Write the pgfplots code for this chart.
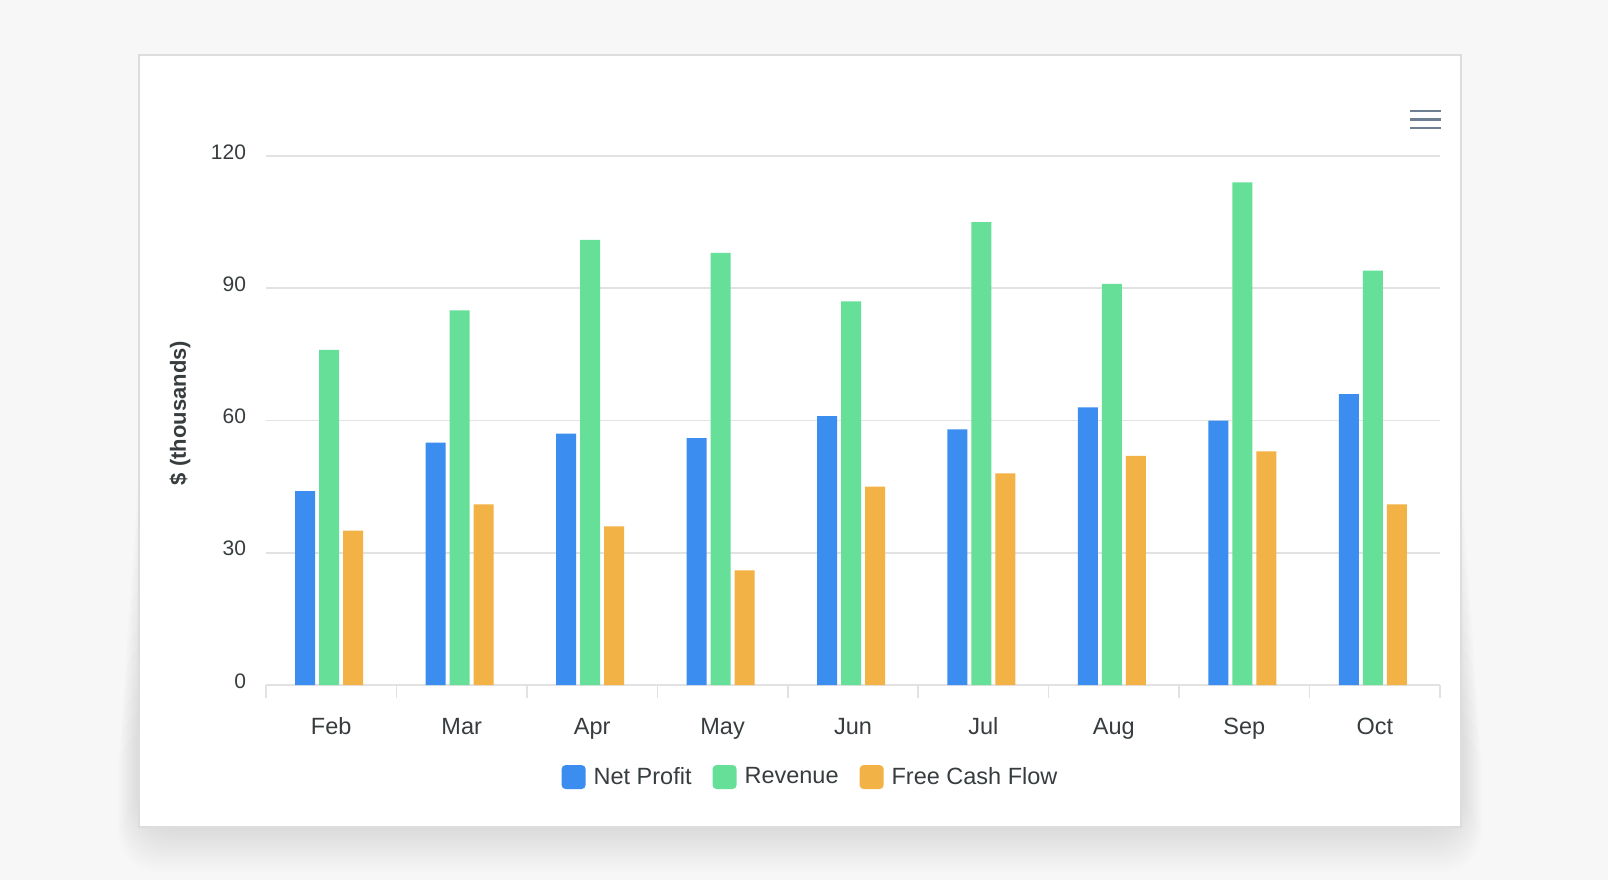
\documentclass[border=0pt]{standalone}
\usepackage{fontspec}
\setmainfont{Liberation Sans}
\usepackage{pgfplots}
\usepackage{pgfplotstable}
\pgfplotsset{compat=1.18}

\definecolor{bg}{HTML}{F7F7F7}
\definecolor{cardborder}{HTML}{DDDDDD}
\definecolor{gridc}{HTML}{E2E2E2}
\definecolor{txt}{HTML}{373D3F}
\definecolor{npblue}{HTML}{3B8EF0}
\definecolor{revgreen}{HTML}{66DF99}
\definecolor{fcforange}{HTML}{F2B245}
\definecolor{menu}{HTML}{6E7F91}

\pgfplotsset{
  sqlegend/.style={legend image code/.code={
    \fill[##1,draw=none,rounded corners=2pt] (0pt,-6pt) rectangle (12pt,6pt);}},
}

% monthly figures, $ thousands
\pgfplotstableread{
idx np  rev fcf
0   44  76  35
1   55  85  41
2   57  101 36
3   56  98  26
4   61  87  45
5   58  105 48
6   63  91  52
7   60  114 53
8   66  94  41
}\fin

\begin{document}
\begin{tikzpicture}
% page, shadow, card (pixel units, origin top left)
\begin{scope}[x=0.5pt,y=-0.5pt,yshift=440pt]
  \fill[bg] (0,0) rectangle (1608,880);
  \foreach \i in {1,...,14} {
    \fill[black,opacity=0.006,rounded corners=20pt] (139-1.5*\i,420+22*\i) rectangle (1461+1.5*\i,827+3.2*\i);
  }
  \fill[white] (139,55) rectangle (1461,827);
  \draw[cardborder,line width=1pt] (139,55) rectangle (1461,827);
  \draw[menu,line width=1.4pt] (1410,111) -- (1441,111);
  \draw[menu,line width=1.4pt] (1410,119.5) -- (1441,119.5);
  \draw[menu,line width=1.4pt] (1410,128) -- (1441,128);
\end{scope}

\begin{axis}[
  at={(133pt,97.5pt)}, anchor=south west,
  scale only axis, width=587pt, height=264.5pt,
  xmin=-0.5, xmax=8.5, ymin=0, ymax=120,
  ybar=2pt, bar width=10pt,
  every axis plot/.append style={xshift=-1pt},
  xtick={-0.5,0.5,1.5,2.5,3.5,4.5,5.5,6.5,7.5,8.5},
  x tick label as interval,
  xticklabels={Feb,Mar,Apr,May,Jun,Jul,Aug,Sep,Oct},
  ytick={0,30,60,90,120},
  /pgf/number format/assume math mode=true,
  separate axis lines,
  axis x line*=bottom,
  x axis line style={gridc,line width=1.2pt,-},
  y axis line style={draw=none},
  ymajorgrids,
  major grid style={gridc,line width=0.8pt},
  tick align=outside,
  major tick length=6.5pt,
  xtick style={gridc,line width=0.8pt},
  ytick style={draw=none},
  yticklabel style={font=\fontsize{10.5}{12}\selectfont,text=txt,anchor=east,inner sep=0pt,xshift=-3.3pt,yshift=2pt},
  xticklabel style={font=\fontsize{11.75}{14}\selectfont,text=txt,anchor=base,inner sep=0pt,yshift=-18pt},
  ylabel={\$ (thousands)},
  ylabel style={at={(axis description cs:-0.0733,0.514)},anchor=center,font=\bfseries\fontsize{11}{13}\selectfont,text=txt},
  legend style={at={(axis description cs:0.463,-0.174)},anchor=center,legend columns=3,
    draw=none,fill=none,font=\fontsize{11.75}{14}\selectfont,text=txt,
    nodes={inner sep=0pt},
    /tikz/every odd column/.append style={column sep=4pt},
    /tikz/every even column/.append style={column sep=10.5pt}},
]
\addplot[fill=npblue,draw=none,sqlegend] table[x=idx,y=np] {\fin};
\addplot[fill=revgreen,draw=none,sqlegend] table[x=idx,y=rev] {\fin};
\addplot[fill=fcforange,draw=none,sqlegend] table[x=idx,y=fcf] {\fin};
\legend{Net Profit,Revenue,Free Cash Flow}
\end{axis}
\pgfresetboundingbox
\useasboundingbox (0,0) rectangle (804pt,440pt);
\end{tikzpicture}
\end{document}
